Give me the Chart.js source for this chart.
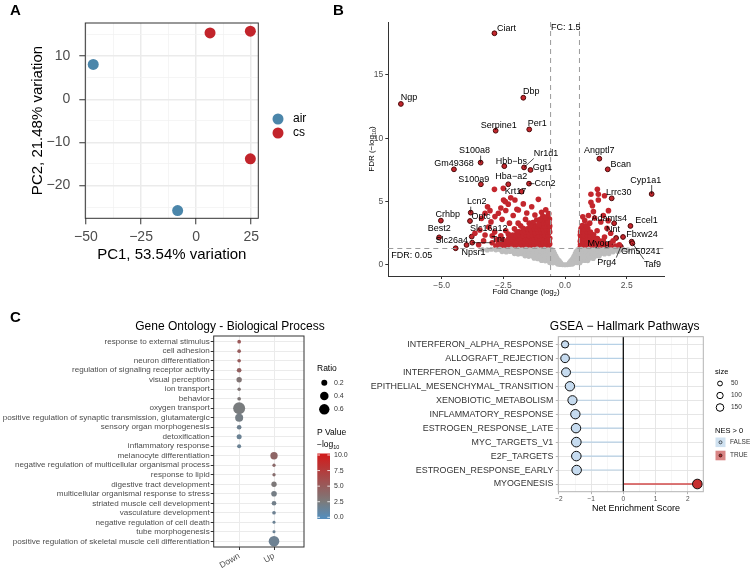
<!DOCTYPE html>
<html>
<head>
<meta charset="utf-8">
<script src="https://cdn.jsdelivr.net/npm/chart.js@4.4.0/dist/chart.umd.min.js"></script>
<style>
body { margin: 0; background: #fff; }
#wrap { position: relative; width: 750px; height: 569px; }
canvas { position: absolute; left: 0; top: 0; }
</style>
</head>
<body>
<div id="wrap">
<canvas id="pca" width="750" height="569"></canvas>
<canvas id="volc" width="750" height="569"></canvas>
<canvas id="go" width="750" height="569"></canvas>
<canvas id="gsea" width="750" height="569"></canvas>
</div>
<script>
// ---------- A: PCA ----------
const pcaSamples = ['air', 'air', 'cs', 'cs', 'cs'];
const pcaPC1 = [-46.7, -8.4, 6.3, 24.6, 24.6];
const pcaPC2 = [8.1, -25.8, 15.4, 15.8, -13.8];
const pcaGroups = ['air', 'cs'];
const pcaXMajor = [-50, -25, 0, 25];
const pcaXMinor = [-37.5, -12.5, 12.5];
const pcaYMajor = [-20, -10, 0, 10];
const pcaYMinor = [-25, -15, -5, 5, 15];

// ---------- B: volcano ----------
const volcNs = [
  [-3.35,1.22],[-3.15,1.19],[-2.98,1.24],[-2.8,1.2],[-2.64,1.23],[-2.48,1.18],[-2.33,1.22],[-2.18,1.25],[-2.03,1.19],[-1.88,1.23],
  [-1.73,1.2],[-1.58,1.24],[-1.43,1.19],[-1.28,1.22],[-1.13,1.25],[-0.98,1.2],[-0.83,1.23],[-0.68,1.19],[-0.54,1.22],
  [0.52,1.21],[0.66,1.24],[0.81,1.19],[0.96,1.23],[1.11,1.2],[1.26,1.24],[1.41,1.19],[1.56,1.22],[1.71,1.25],[1.86,1.2],
  [2.02,1.23],[2.18,1.19],[2.36,1.22],[2.55,1.2],
  [-2.55,1.06],[-2.38,1.03],[-2.22,1.07],[-2.06,1.04],[-1.9,1.06],[-1.75,1.02],[-1.6,1.05],[-1.45,1.08],[-1.3,1.03],[-1.15,1.06],
  [-1.0,1.04],[-0.85,1.07],[-0.7,1.03],[-0.56,1.05],[-0.46,1.06],
  [0.45,1.05],[0.57,1.03],[0.71,1.07],[0.86,1.04],[1.01,1.06],[1.16,1.02],[1.31,1.05],[1.46,1.07],[1.62,1.03],[1.78,1.06],[1.95,1.04],[2.15,1.07],
  [-2.05,0.9],[-1.9,0.86],[-1.75,0.89],[-1.6,0.87],[-1.45,0.9],[-1.3,0.86],[-1.15,0.89],[-1.0,0.87],[-0.85,0.9],[-0.7,0.86],[-0.56,0.89],[-0.42,0.88],
  [0.41,0.87],[0.54,0.9],[0.68,0.86],[0.83,0.89],[0.98,0.87],[1.13,0.9],[1.28,0.86],[1.44,0.89],[1.6,0.87],[1.78,0.9],
  [-1.62,0.72],[-1.47,0.68],[-1.32,0.71],[-1.17,0.69],[-1.02,0.72],[-0.88,0.68],[-0.74,0.71],[-0.6,0.69],[-0.47,0.71],[-0.37,0.7],
  [0.36,0.69],[0.48,0.72],[0.62,0.68],[0.76,0.71],[0.91,0.69],[1.06,0.72],[1.21,0.68],[1.38,0.7],
  [-1.25,0.53],[-1.1,0.5],[-0.96,0.54],[-0.82,0.51],[-0.68,0.53],[-0.55,0.5],[-0.42,0.53],[-0.32,0.52],
  [0.31,0.51],[0.42,0.54],[0.55,0.5],[0.69,0.53],[0.83,0.51],[0.98,0.54],[1.14,0.52],
  [-0.95,0.36],[-0.8,0.33],[-0.66,0.37],[-0.53,0.34],[-0.41,0.36],[-0.3,0.33],[-0.24,0.35],
  [0.24,0.34],[0.3,0.36],[0.41,0.33],[0.53,0.37],[0.66,0.34],[0.8,0.36],[0.92,0.35],
  [-0.62,0.19],[-0.49,0.17],[-0.37,0.2],[-0.27,0.17],[-0.18,0.19],[0.18,0.18],[0.27,0.2],[0.37,0.17],[0.49,0.19],[0.6,0.18],
  [-0.3,0.07],[-0.2,0.04],[-0.1,0.03],[0,0.02],[0.1,0.03],[0.2,0.05],[0.3,0.07]
];
const volcDown = [
  [-2.62,1.41],[-2.47,1.38],[-2.35,1.43],[-2.21,1.39],[-2.08,1.42],[-1.95,1.37],[-1.83,1.41],[-1.70,1.44],[-1.57,1.38],[-1.44,1.42],
  [-1.31,1.39],[-1.18,1.43],[-1.05,1.37],[-0.93,1.41],[-0.80,1.39],[-0.67,1.42],
  [-2.52,1.64],[-2.39,1.61],[-2.27,1.66],[-2.12,1.62],[-2.01,1.65],[-1.88,1.6],[-1.75,1.64],[-1.63,1.67],[-1.50,1.61],[-1.37,1.65],
  [-1.24,1.62],[-1.11,1.66],[-0.98,1.6],[-0.86,1.64],[-0.73,1.62],[-0.62,1.65],
  [-2.44,1.88],[-2.30,1.85],[-2.17,1.9],[-2.04,1.86],[-1.92,1.89],[-1.79,1.84],[-1.66,1.88],[-1.53,1.91],[-1.40,1.85],[-1.28,1.89],
  [-1.15,1.86],[-1.02,1.9],[-0.90,1.84],[-0.77,1.88],[-0.64,1.86],
  [-2.28,2.11],[-2.15,2.08],[-2.01,2.13],[-1.89,2.09],[-1.76,2.12],[-1.63,2.07],[-1.50,2.11],[-1.37,2.14],[-1.25,2.08],[-1.12,2.12],
  [-0.99,2.09],[-0.86,2.13],[-0.73,2.07],[-0.62,2.11],
  [-2.12,2.36],[-1.97,2.33],[-1.84,2.38],[-1.71,2.34],[-1.58,2.37],[-1.46,2.32],[-1.33,2.36],[-1.20,2.39],[-1.07,2.33],[-0.94,2.37],
  [-0.82,2.34],[-0.69,2.36],
  [-1.86,2.61],[-1.72,2.58],[-1.60,2.63],[-1.47,2.59],[-1.35,2.62],[-1.22,2.57],[-1.09,2.61],[-0.96,2.64],[-0.84,2.58],[-0.72,2.62],[-0.62,2.6],
  [-1.52,2.86],[-1.39,2.83],[-1.26,2.88],[-1.13,2.84],[-1.00,2.87],[-0.88,2.82],[-0.76,2.86],[-0.64,2.84],
  [-1.22,3.11],[-1.09,3.08],[-0.97,3.13],[-0.84,3.09],[-0.72,3.12],[-0.62,3.08],
  [-1.02,3.36],[-0.88,3.33],[-0.76,3.38],[-0.65,3.34],[-0.86,3.61],[-0.72,3.58],[-0.63,3.63],[-0.70,3.86],
  [-0.95,4.16],[-1.08,5.18],[-1.22,3.95],[-1.35,4.6],[-1.69,4.82],[-1.89,4.34],[-2.03,5.13],[-2.3,4.8],[-2.49,5.13],[-2.5,6.05],
  [-2.86,5.97],[-2.7,4.08],[-2.84,3.82],[-3.04,4.29],[-3.14,4.6],[-3.24,4.08],[-3.38,3.68],[-3.1,3.0],[-3.45,2.76],[-3.24,2.37],
  [-2.95,1.76],[-3.65,2.5],[-0.78,4.35],[-0.66,4.05],[-0.9,3.85],[-1.15,3.55],[-1.45,3.3],[-1.6,3.6],[-1.8,3.1],[-2.05,2.85],
  [-2.25,3.3],[-2.4,2.7],[-2.6,2.3],[-2.75,2.0],[-2.85,2.6],[-2.55,3.6],[-2.1,3.9],[-1.95,4.4],[-2.6,4.5],[-2.2,5.3],
  [-2.4,4.3],[-1.55,4.1],[-3.0,3.4],[-2.95,2.3],[-3.3,1.9],[-2.8,1.5],[-3.5,1.6],[-0.7,3.4],[-1.05,3.2],[-2.42,5.0],
  [-1.3,3.35],[-1.7,2.9],[-1.95,2.62],[-2.3,2.45],[-2.55,2.05],[-2.7,1.7],[-0.8,3.7],[-1.0,3.6],[-1.4,3.1],[-1.9,3.3]
];
const volcUp = [
  [0.62,1.41],[0.75,1.38],[0.88,1.43],[1.01,1.39],[1.14,1.42],[1.27,1.37],[1.40,1.41],[1.53,1.44],[1.66,1.38],[1.79,1.42],[1.92,1.39],
  [0.63,1.64],[0.76,1.61],[0.89,1.66],[1.02,1.62],[1.15,1.65],[1.28,1.6],[1.41,1.64],[1.54,1.67],[1.70,1.62],
  [0.62,1.88],[0.75,1.85],[0.88,1.9],[1.01,1.86],[1.14,1.89],[1.27,1.84],[1.42,1.88],[1.55,1.91],
  [0.64,2.12],[0.77,2.09],[0.90,2.14],[1.03,2.1],[1.16,2.13],[1.31,2.08],
  [0.62,2.37],[0.75,2.34],[0.88,2.39],[1.01,2.35],[1.16,2.38],
  [0.63,2.62],[0.76,2.59],[0.89,2.64],[1.03,2.6],[0.65,2.87],[0.78,2.84],[0.92,2.89],[0.70,3.12],[0.85,3.09],
  [1.05,5.58],[1.31,5.97],[1.35,5.58],[1.6,5.47],[1.05,4.95],[1.11,4.68],[1.35,5.13],[1.76,4.29],[1.15,4.21],[0.95,3.9],
  [0.8,3.5],[1.2,3.7],[1.45,3.4],[1.55,3.9],[1.0,3.3],[1.7,2.9],[1.85,2.5],[1.6,2.2],[1.95,1.9],[2.2,1.6],
  [1.75,3.5],[1.3,2.7],[2.05,1.5],[0.72,3.8]
];
const volcGenes = ['Ciart', 'Ngp', 'Dbp', 'Serpine1', 'Per1', 'S100a8', 'Gm49368', 'Hbb\u2212bs', 'Nr1d1', 'Ggt1',
  'S100a9', 'Hba\u2212a2', 'Ccn2', 'Krt17', 'Lcn2', 'Optc', 'Crhbp', 'Best2', 'Slc16a12', 'Slc26a4', 'Tnr', 'Npsr1',
  'Angptl7', 'Bcan', 'Cyp1a1', 'Lrrc30', 'Adamts4', 'Ecel1', 'Nnt', 'Fbxw24', 'Myog', 'Gm50241', 'Prg4', 'Taf9'];
const volcGeneFC = [-2.86, -6.65, -1.69, -2.81, -1.45, -3.42, -4.5, -2.46, -1.66, -1.4,
  -3.41, -2.3, -1.46, -1.76, -3.82, -3.85, -5.03, -5.1, -3.78, -4.43, -3.76, -3.99,
  1.39, 1.73, 3.51, 1.89, 1.99, 2.65, 2.07, 2.35, 1.84, 2.7, 2.26, 2.73];
const volcGeneFDR = [18.29, 12.71, 13.2, 10.6, 10.7, 8.08, 7.55, 7.8, 7.7, 7.5,
  6.37, 6.37, 6.42, 5.79, 4.13, 3.47, 3.5, 2.18, 2.24, 1.32, 1.76, 1.58,
  8.39, 7.55, 5.6, 5.26, 3.29, 3.08, 2.13, 2.21, 1.71, 1.84, 1.45, 1.71];
const volcXTicks = [-5, -2.5, 0, 2.5];
const volcYTicks = [0, 5, 10, 15];
const fcCut = 1.5;
const fdrCut = 0.05;

// ---------- C left: GO ----------
const goTerms = ['response to external stimulus', 'cell adhesion', 'neuron differentiation',
  'regulation of signaling receptor activity', 'visual perception', 'ion transport', 'behavior', 'oxygen transport',
  'positive regulation of synaptic transmission, glutamatergic', 'sensory organ morphogenesis', 'detoxification',
  'inflammatory response', 'melanocyte differentiation', 'negative regulation of multicellular organismal process',
  'response to lipid', 'digestive tract development', 'multicellular organismal response to stress',
  'striated muscle cell development', 'vasculature development', 'negative regulation of cell death',
  'tube morphogenesis', 'positive regulation of skeletal muscle cell differentiation'];
const goCols = ['Down', 'Up'];
const goDir = ['Down', 'Down', 'Down', 'Down', 'Down', 'Down', 'Down', 'Down', 'Down', 'Down', 'Down', 'Down',
  'Up', 'Up', 'Up', 'Up', 'Up', 'Up', 'Up', 'Up', 'Up', 'Up'];
const goRatio = [0.075, 0.075, 0.075, 0.12, 0.16, 0.065, 0.075, 0.80, 0.36, 0.12, 0.14, 0.09,
  0.30, 0.06, 0.06, 0.16, 0.175, 0.12, 0.075, 0.05, 0.05, 0.63];
const goLogP = [5.3, 5.0, 5.0, 4.6, 3.0, 3.0, 2.8, 2.4, 2.1, 1.7, 1.5, 1.5,
  4.2, 3.9, 3.6, 2.7, 2.1, 1.9, 1.6, 1.5, 1.5, 1.6];
const goRatioKeys = [0.2, 0.4, 0.6];
const goPKeys = [10, 7.5, 5, 2.5, 0];

// ---------- C right: GSEA ----------
const gseaPaths = ['INTERFERON_ALPHA_RESPONSE', 'ALLOGRAFT_REJECTION', 'INTERFERON_GAMMA_RESPONSE',
  'EPITHELIAL_MESENCHYMAL_TRANSITION', 'XENOBIOTIC_METABOLISM', 'INFLAMMATORY_RESPONSE', 'ESTROGEN_RESPONSE_LATE',
  'MYC_TARGETS_V1', 'E2F_TARGETS', 'ESTROGEN_RESPONSE_EARLY', 'MYOGENESIS'];
const gseaNES = [-1.81, -1.81, -1.78, -1.66, -1.58, -1.49, -1.47, -1.46, -1.46, -1.45, 2.30];
const gseaSize = [95, 150, 165, 185, 175, 185, 190, 200, 195, 195, 200];
const gseaXMajor = [-2, -1, 0, 1, 2];
const gseaXMinor = [-1.5, -0.5, 0.5, 1.5];
const gseaSizeKeys = [50, 100, 150];

const FONT = "'Liberation Sans', Arial, Helvetica, sans-serif";
const W = 750, H = 569;
Chart.defaults.font.family = FONT;

const minus = v => String(v).replace('-', '\u2212');
const ticksOf = arr => s => { s.ticks = arr.slice().sort((a, b) => a - b).map(v => ({ value: v })); };
const isIn = (arr, c) => c.tick && arr.includes(c.tick.value);

function rich(ctx, segs, x, y, align) {
  let w = 0;
  segs.forEach(s => { ctx.font = s[1] + 'px ' + FONT; w += ctx.measureText(s[0]).width; });
  let cx = align === 'center' ? x - w / 2 : (align === 'right' ? x - w : x);
  ctx.textAlign = 'left';
  ctx.textBaseline = 'alphabetic';
  segs.forEach(s => {
    ctx.font = s[1] + 'px ' + FONT;
    ctx.fillText(s[0], cx, y + (s[2] || 0));
    cx += ctx.measureText(s[0]).width;
  });
}

function txt(ctx, t, x, y, size, align, color, weight) {
  ctx.font = (weight || '') + ' ' + size + 'px ' + FONT;
  ctx.fillStyle = color || '#000';
  ctx.textAlign = align || 'left';
  ctx.textBaseline = 'middle';
  ctx.fillText(t, x, y);
}

const base = (top, right) => ({
  responsive: false, animation: false, events: [],
  layout: { padding: { left: 0, top: top, right: W - right, bottom: 0 } },
  plugins: { legend: { display: false }, tooltip: { enabled: false } }
});

// ================= A =================
const pcaColors = { air: '#4B86AA', cs: '#C2242B' };

const pcaDecor = {
  id: 'pcaDecor',
  afterDraw(chart) {
    const ctx = chart.ctx, a = chart.chartArea;
    ctx.save();
    ctx.strokeStyle = '#333';
    ctx.lineWidth = 1;
    ctx.strokeRect(a.left, a.top, a.right - a.left, a.bottom - a.top);
    pcaGroups.forEach((g, i) => {
      ctx.fillStyle = pcaColors[g];
      ctx.beginPath();
      ctx.arc(278, 119 + i * 14, 5.5, 0, Math.PI * 2);
      ctx.fill();
      txt(ctx, g, 293, 119 + i * 14, 12, 'left', '#000');
    });
    txt(ctx, 'PC1, 53.54% variation', 171.8, 254.5, 15, 'center', '#000');
    ctx.translate(38, 120.5);
    ctx.rotate(-Math.PI / 2);
    txt(ctx, 'PC2, 21.48% variation', 0, 0, 15, 'center', '#000');
    ctx.restore();
    ctx.save();
    txt(ctx, 'A', 10, 11, 15, 'left', '#000', 'bold');
    ctx.restore();
  }
};

const pcaGrid = (majors) => ({
  color: c => isIn(majors, c) ? '#EBEBEB' : '#F2F2F2',
  lineWidth: c => isIn(majors, c) ? 1.5 : 0.8,
  tickColor: c => isIn(majors, c) ? '#333' : 'rgba(0,0,0,0)',
  tickWidth: 1,
  tickLength: 6
});

new Chart(document.getElementById('pca'), {
  type: 'scatter',
  data: {
    datasets: pcaGroups.map(g => ({
      label: g,
      data: pcaPC1.map((x, i) => ({ x: x, y: pcaPC2[i], g: pcaSamples[i] })).filter(p => p.g === g),
      backgroundColor: pcaColors[g],
      pointRadius: 5.5,
      borderWidth: 0
    }))
  },
  options: Object.assign(base(23, 258.3), {
    scales: {
      x: {
        type: 'linear', min: -50.3, max: 28.2,
        afterBuildTicks: ticksOf(pcaXMajor.concat(pcaXMinor)),
        afterFit: s => { s.height = H - 218.3; },
        grid: pcaGrid(pcaXMajor),
        border: { display: false },
        ticks: { autoSkip: false, maxRotation: 0, padding: 4, color: '#4D4D4D', font: { size: 14 },
          callback: v => pcaXMajor.includes(v) ? minus(v) : '' }
      },
      y: {
        type: 'linear', min: -27.6, max: 17.7,
        afterBuildTicks: ticksOf(pcaYMajor.concat(pcaYMinor)),
        afterFit: s => { s.width = 85.3; },
        grid: pcaGrid(pcaYMajor),
        border: { display: false },
        ticks: { autoSkip: false, padding: 9, color: '#4D4D4D', font: { size: 14 },
          callback: v => pcaYMajor.includes(v) ? minus(v) : '' }
      }
    }
  }),
  plugins: [pcaDecor]
});

// ================= B =================
const volcGeneOffsets = [[12, -5], [8, -6], [8, -6], [3, -5], [8, -6], [-6, -12], [0, -6], [7, -5], [22, -14], [12, -2],
  [-7, -5], [3, -8], [16, 0], [-6, 0], [6, -11], [11, -5], [7, -6], [0, -9], [17, -8], [-4, -8], [26, -3], [7, 8],
  [0, -8], [13, -5], [-6, -14], [7, -6], [-5, -5], [16, -5], [-3, -8], [19, -2], [-12, 0], [9, 10], [-14, 16], [20, 21]];

const volcDecor = {
  id: 'volcDecor',
  afterDatasetsDraw(chart) {
    const ctx = chart.ctx, a = chart.chartArea, xs = chart.scales.x, ys = chart.scales.y;
    const lfc = Math.log2(fcCut), lfdr = -Math.log10(fdrCut);
    ctx.save();
    ctx.strokeStyle = '#9A9A9A';
    ctx.lineWidth = 1;
    ctx.setLineDash([5, 4]);
    [-lfc, lfc].forEach(v => {
      const px = xs.getPixelForValue(v);
      ctx.beginPath(); ctx.moveTo(px, a.top); ctx.lineTo(px, a.bottom); ctx.stroke();
    });
    const py = ys.getPixelForValue(lfdr);
    ctx.beginPath(); ctx.moveTo(a.left, py); ctx.lineTo(a.right, py); ctx.stroke();
    ctx.setLineDash([]);
    txt(ctx, 'FC: ' + fcCut, xs.getPixelForValue(-lfc) + 0.5, a.top + 5.5, 9, 'left', '#000');
    txt(ctx, 'FDR: ' + fdrCut, a.left + 3, py + 7, 9, 'left', '#000');

    // gene labels
    volcGenes.forEach((g, i) => {
      const px = xs.getPixelForValue(volcGeneFC[i]);
      const pyy = ys.getPixelForValue(volcGeneFDR[i]);
      const tx = px + volcGeneOffsets[i][0], ty = pyy + volcGeneOffsets[i][1];
      ctx.font = '9px ' + FONT;
      const hw = ctx.measureText(g).width / 2, hh = 5;
      const nx = Math.max(tx - hw, Math.min(px, tx + hw));
      const ny = Math.max(ty - hh, Math.min(pyy, ty + hh));
      const d = Math.hypot(nx - px, ny - pyy);
      if (d > 5) {
        ctx.strokeStyle = '#000';
        ctx.lineWidth = 0.7;
        ctx.beginPath(); ctx.moveTo(px, pyy); ctx.lineTo(nx, ny); ctx.stroke();
      }
      txt(ctx, g, tx, ty, 9, 'center', '#000');
    });
    ctx.restore();
  },
  afterDraw(chart) {
    const ctx = chart.ctx;
    ctx.save();
    ctx.fillStyle = '#000';
    rich(ctx, [['Fold Change (log', 8], ['2', 5.5, 2], [')', 8]], 526, 294, 'center');
    ctx.translate(374, 149);
    ctx.rotate(-Math.PI / 2);
    rich(ctx, [['FDR (\u2212log', 8], ['10', 5.5, 2], [')', 8]], 0, 0, 'center');
    ctx.restore();
    ctx.save();
    txt(ctx, 'B', 333, 11, 15, 'left', '#000', 'bold');
    ctx.restore();
  }
};

const pts = arr => arr.map(p => ({ x: p[0], y: p[1] }));

new Chart(document.getElementById('volc'), {
  type: 'scatter',
  data: {
    datasets: [
      { data: pts(volcNs), backgroundColor: '#BDBDBD', pointRadius: 2.6, borderWidth: 0 },
      { data: pts(volcDown.concat(volcUp)), backgroundColor: '#C3262D', pointRadius: 2.8, borderWidth: 0 },
      { data: volcGeneFC.map((x, i) => ({ x: x, y: volcGeneFDR[i] })), backgroundColor: '#C3262D',
        pointRadius: 2.4, borderWidth: 1, borderColor: '#4a0606' }
    ]
  },
  options: Object.assign(base(22, 664), {
    scales: {
      x: {
        type: 'linear', min: -7.16, max: 4.01,
        afterBuildTicks: ticksOf(volcXTicks),
        afterFit: s => { s.height = H - 276; },
        grid: { drawOnChartArea: false, tickLength: 3, tickColor: '#333', tickWidth: 1 },
        border: { display: true, color: '#333', width: 1 },
        ticks: { autoSkip: false, maxRotation: 0, padding: 2, color: '#4D4D4D', font: { size: 8.5 },
          callback: v => minus(v.toFixed(1)) }
      },
      y: {
        type: 'linear', min: -0.87, max: 19.18,
        afterBuildTicks: ticksOf(volcYTicks),
        afterFit: s => { s.width = 388.3; },
        grid: { drawOnChartArea: false, tickLength: 3, tickColor: '#333', tickWidth: 1 },
        border: { display: true, color: '#333', width: 1 },
        ticks: { autoSkip: false, padding: 2, color: '#4D4D4D', font: { size: 8.5 }, callback: v => String(v) }
      }
    }
  }),
  plugins: [volcDecor]
});

// ================= C left =================
function pColor(v) {
  const stops = [[0, [84, 140, 186]], [2.5, [123, 123, 123]], [10, [208, 28, 28]]];
  let i = v <= 2.5 ? 0 : 1;
  const a = stops[i], b = stops[i + 1];
  const t = Math.max(0, Math.min(1, (v - a[0]) / (b[0] - a[0])));
  const c = a[1].map((x, k) => Math.round(x + (b[1][k] - x) * t));
  return 'rgb(' + c.join(',') + ')';
}
const ratioR = r => 6.7 * Math.sqrt(r);

const goDecor = {
  id: 'goDecor',
  afterDraw(chart) {
    const ctx = chart.ctx, a = chart.chartArea;
    ctx.save();
    ctx.strokeStyle = '#333';
    ctx.lineWidth = 1;
    ctx.strokeRect(a.left, a.top, a.right - a.left, a.bottom - a.top);
    txt(ctx, 'Gene Ontology - Biological Process', 230, 326.5, 12, 'center', '#000');
    // size legend
    txt(ctx, 'Ratio', 317, 369, 8.5, 'left', '#000');
    goRatioKeys.forEach((r, i) => {
      const y = 382.7 + i * 13.3;
      ctx.fillStyle = '#000';
      ctx.beginPath(); ctx.arc(324.3, y, ratioR(r), 0, Math.PI * 2); ctx.fill();
      txt(ctx, r.toFixed(1), 334, y, 7, 'left', '#333');
    });
    // colour legend
    txt(ctx, 'P Value', 317, 433, 8.5, 'left', '#000');
    ctx.fillStyle = '#000';
    rich(ctx, [['\u2212log', 8.5], ['10', 5.5, 2]], 317, 447, 'left');
    const y10 = 455, y0 = 517.3;
    const grad = ctx.createLinearGradient(0, y10, 0, y0);
    for (let k = 0; k <= 20; k++) grad.addColorStop(k / 20, pColor(10 - k / 2));
    ctx.fillStyle = grad;
    ctx.fillRect(317.3, 453.5, 12.7, 65.5);
    goPKeys.forEach(v => {
      const y = y10 + (10 - v) / 10 * (y0 - y10);
      ctx.strokeStyle = '#fff';
      ctx.lineWidth = 0.8;
      ctx.beginPath(); ctx.moveTo(317.3, y); ctx.lineTo(320, y); ctx.moveTo(327.3, y); ctx.lineTo(330, y); ctx.stroke();
      txt(ctx, v.toFixed(1), 334, y, 7, 'left', '#333');
    });
    txt(ctx, 'C', 10, 318, 15, 'left', '#000', 'bold');
    ctx.restore();
  }
};

new Chart(document.getElementById('go'), {
  type: 'scatter',
  data: {
    datasets: [{
      data: goTerms.map((t, i) => ({ x: goCols.indexOf(goDir[i]) + 1, y: i + 1 })),
      pointRadius: c => ratioR(goRatio[c.dataIndex]),
      backgroundColor: c => pColor(goLogP[c.dataIndex]),
      borderWidth: 0
    }]
  },
  options: Object.assign(base(336, 304), {
    scales: {
      x: {
        type: 'linear', min: 0.27, max: 2.86,
        afterBuildTicks: ticksOf([1, 2]),
        afterFit: s => { s.height = H - 547; },
        grid: { color: '#EBEBEB', lineWidth: 1, tickLength: 3, tickColor: '#333', tickWidth: 1 },
        border: { display: false },
        ticks: { autoSkip: false, minRotation: 30, maxRotation: 30, padding: 1, color: '#4D4D4D', font: { size: 8.5 },
          callback: v => goCols[v - 1] }
      },
      y: {
        type: 'linear', reverse: true, min: 0.4, max: 22.6,
        afterBuildTicks: ticksOf(goTerms.map((t, i) => i + 1)),
        afterFit: s => { s.width = 213.7; },
        grid: { color: '#EBEBEB', lineWidth: 1, tickLength: 3, tickColor: '#333', tickWidth: 1 },
        border: { display: false },
        ticks: { autoSkip: false, padding: 1, color: '#4D4D4D', font: { size: 8.1 }, callback: v => goTerms[v - 1] }
      }
    }
  }),
  plugins: [goDecor]
});

// ================= C right =================
const sizeR = s => 1 + 0.27 * Math.sqrt(s);

const gseaDecor = {
  id: 'gseaDecor',
  beforeDatasetsDraw(chart) {
    const ctx = chart.ctx, a = chart.chartArea, xs = chart.scales.x, ys = chart.scales.y;
    ctx.save();
    gseaNES.forEach((v, i) => {
      const y = ys.getPixelForValue(i + 1);
      ctx.strokeStyle = v > 0 ? '#D24A4A' : '#B7D1E6';
      ctx.lineWidth = v > 0 ? 1.5 : 1.1;
      ctx.beginPath(); ctx.moveTo(xs.getPixelForValue(0), y); ctx.lineTo(xs.getPixelForValue(v), y); ctx.stroke();
    });
    ctx.strokeStyle = '#111';
    ctx.lineWidth = 1.3;
    const x0 = xs.getPixelForValue(0);
    ctx.beginPath(); ctx.moveTo(x0, a.top); ctx.lineTo(x0, a.bottom); ctx.stroke();
    ctx.restore();
  },
  afterDraw(chart) {
    const ctx = chart.ctx, a = chart.chartArea;
    ctx.save();
    ctx.strokeStyle = '#B3B3B3';
    ctx.lineWidth = 1;
    ctx.strokeRect(a.left, a.top, a.right - a.left, a.bottom - a.top);
    txt(ctx, 'GSEA \u2212 Hallmark Pathways', 624.7, 326.5, 12, 'center', '#000');
    txt(ctx, 'Net Enrichment Score', 636, 509, 9, 'center', '#000');
    txt(ctx, 'size', 715, 372, 7.5, 'left', '#000');
    gseaSizeKeys.forEach((s, i) => {
      const y = 383.5 + i * 12;
      ctx.strokeStyle = '#000';
      ctx.lineWidth = 1;
      ctx.beginPath(); ctx.arc(720, y, sizeR(s) - 0.5, 0, Math.PI * 2); ctx.stroke();
      txt(ctx, String(s), 731, y, 6.5, 'left', '#333');
    });
    txt(ctx, 'NES > 0', 715, 431, 7.5, 'left', '#000');
    [['FALSE', '#CFE1F0', '#C6DBEF'], ['TRUE', '#D98585', '#B52828']].forEach((k, i) => {
      const y = 442.3 + i * 13.2;
      ctx.fillStyle = k[1];
      ctx.fillRect(715.5, y - 4.8, 10, 9.6);
      ctx.fillStyle = k[2];
      ctx.strokeStyle = '#000';
      ctx.lineWidth = 0.6;
      ctx.beginPath(); ctx.arc(720.5, y, 1.5, 0, Math.PI * 2); ctx.fill(); ctx.stroke();
      txt(ctx, k[0], 730, y, 6.5, 'left', '#333');
    });
    ctx.restore();
  }
};

const gseaGrid = (majors) => ({
  color: c => isIn(majors, c) ? '#E3E3E3' : '#F0F0F0',
  lineWidth: c => isIn(majors, c) ? 0.9 : 0.6,
  tickColor: c => isIn(majors, c) ? '#B3B3B3' : 'rgba(0,0,0,0)',
  tickWidth: 1,
  tickLength: 2.5
});

new Chart(document.getElementById('gsea'), {
  type: 'scatter',
  data: {
    datasets: [{
      data: gseaNES.map((v, i) => ({ x: v, y: i + 1 })),
      pointRadius: c => sizeR(gseaSize[c.dataIndex]),
      backgroundColor: c => gseaNES[c.dataIndex] > 0 ? '#C62E2E' : '#C6DBEF',
      borderColor: '#111',
      borderWidth: 1
    }]
  },
  options: Object.assign(base(336.7, 703.3), {
    scales: {
      x: {
        type: 'linear', min: -2.02, max: 2.485,
        afterBuildTicks: ticksOf(gseaXMajor.concat(gseaXMinor)),
        afterFit: s => { s.height = H - 491.7; },
        grid: gseaGrid(gseaXMajor),
        border: { display: false },
        ticks: { autoSkip: false, maxRotation: 0, padding: 1, color: '#4D4D4D', font: { size: 6.5 },
          callback: v => gseaXMajor.includes(v) ? minus(v) : '' }
      },
      y: {
        type: 'linear', reverse: true, min: 0.45, max: 11.55,
        afterBuildTicks: ticksOf(gseaPaths.map((p, i) => i + 1)),
        afterFit: s => { s.width = 558.3; },
        grid: { color: '#E3E3E3', lineWidth: 0.9, tickLength: 2.5, tickColor: '#B3B3B3', tickWidth: 1 },
        border: { display: false },
        ticks: { autoSkip: false, padding: 2.5, color: '#333', font: { size: 8.9 }, callback: v => gseaPaths[v - 1] }
      }
    }
  }),
  plugins: [gseaDecor]
});
</script>
</body>
</html>
